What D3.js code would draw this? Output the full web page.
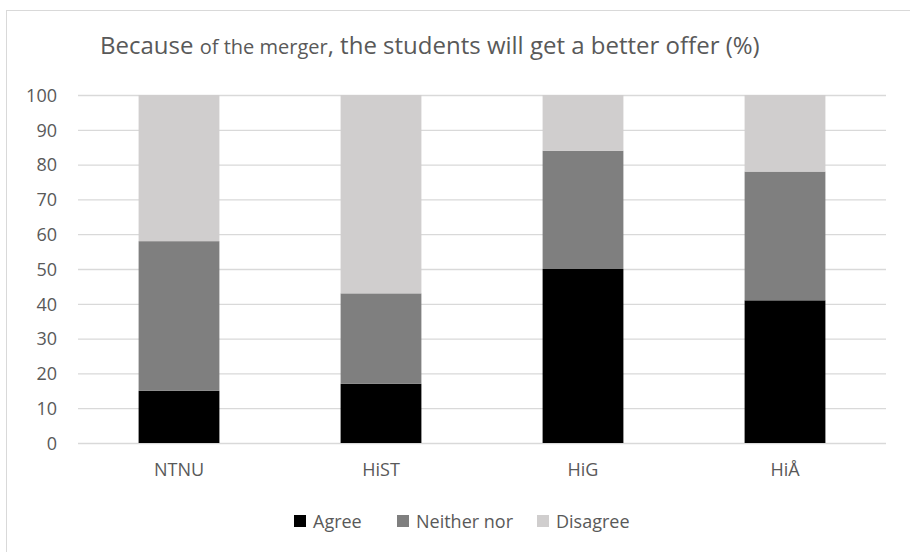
<!DOCTYPE html>
<html lang="en">
<head>
    <meta charset="utf-8">
    <title>Merger chart</title>
    <script src="https://cdn.jsdelivr.net/npm/d3@7"></script>
    <style>
        body { margin: 0; background: #fff; }
        text { font-family: "Open Sans", Lato, sans-serif; fill: #595959; }
    </style>
</head>
<body>
<div id="graph"></div>
<script type="text/javascript">
    var schools = ["NTNU", "HiST", "HiG", "HiÅ"];
    var agree = [15, 17, 50, 41];
    var neither = [43, 26, 34, 37];
    var disagree = [42, 57, 16, 22];
    var seriesNames = ["Agree", "Neither nor", "Disagree"];
    var colours = ["#000000", "#7f7f7f", "#d0cece"];
    var yTicks = [0, 10, 20, 30, 40, 50, 60, 70, 80, 90, 100];

    var w = 910;
    var h = 552;
    // plot area edges (note: "top" is reserved on window, so use plotTop)
    var plotLeft = 78, plotRight = 886, plotTop = 95, plotBottom = 443;

    var svg = d3.select("#graph")
        .append("svg")
        .attr("width", w)
        .attr("height", h);

    // chart frame (only left/top show in the crop)
    svg.append("rect")
        .attr("x", 6.5).attr("y", 10.5)
        .attr("width", 920).attr("height", 560)
        .attr("fill", "none")
        .attr("stroke", "#d9d9d9");

    var rows = schools.map(function (s, i) {
        return { school: s, "Agree": agree[i], "Neither nor": neither[i], "Disagree": disagree[i] };
    });
    var stacked = d3.stack().keys(seriesNames)(rows);

    var xScale = d3.scaleBand()
        .domain(schools)
        .range([plotLeft, plotRight])
        .paddingInner(0.6)
        .paddingOuter(0.3);

    var yScale = d3.scaleLinear()
        .domain([0, 100])
        .range([plotBottom, plotTop]);

    // gridlines + y labels
    var yAxis = d3.axisLeft(yScale)
        .tickValues(yTicks)
        .tickSize(-(plotRight - plotLeft))
        .tickPadding(21);

    var gy = svg.append("g")
        .attr("transform", "translate(" + plotLeft + ",0)")
        .call(yAxis);
    gy.select(".domain").remove();
    gy.selectAll("line").attr("stroke", "#d9d9d9").attr("stroke-width", 1.3);
    gy.selectAll("text")
        .style("font-size", "18px")
        .style("font-family", "'Open Sans', sans-serif")
        .attr("fill", "#595959")
        .attr("dy", "0.35em");

    // bars
    svg.selectAll("g.layer")
        .data(stacked)
        .enter()
        .append("g")
        .attr("class", "layer")
        .attr("fill", function (d, i) { return colours[i]; })
        .selectAll("rect")
        .data(function (d) { return d; })
        .enter()
        .append("rect")
        .attr("x", function (d) { return xScale(d.data.school); })
        .attr("y", function (d) { return yScale(d[1]); })
        .attr("width", xScale.bandwidth())
        .attr("height", function (d) { return yScale(d[0]) - yScale(d[1]); });

    // x labels
    var xAxis = d3.axisBottom(xScale).tickSize(0).tickPadding(20);
    var gx = svg.append("g")
        .attr("transform", "translate(0," + plotBottom + ")")
        .call(xAxis);
    gx.select(".domain").remove();
    gx.selectAll("text")
        .style("font-size", "18px")
        .style("font-family", "'Open Sans', sans-serif")
        .attr("fill", "#595959");

    // title
    var title = svg.append("text")
        .attr("x", 100)
        .attr("y", 54)
        .style("font-size", "24px");
    title.append("tspan").text("Because ");
    title.append("tspan").style("font-size", "20px").text("of the merger");
    title.append("tspan").text(", the students will get a better offer (%)");

    // legend
    var legendX = [294, 397, 537];
    var legend = svg.selectAll("g.legend")
        .data(seriesNames)
        .enter()
        .append("g")
        .attr("class", "legend")
        .attr("transform", function (d, i) { return "translate(" + legendX[i] + ",515)"; });
    legend.append("rect")
        .attr("width", 12).attr("height", 12)
        .attr("fill", function (d, i) { return colours[i]; });
    legend.append("text")
        .attr("x", 19).attr("y", 13)
        .style("font-size", "18px")
        .text(function (d) { return d; });
</script>
</body>
</html>
